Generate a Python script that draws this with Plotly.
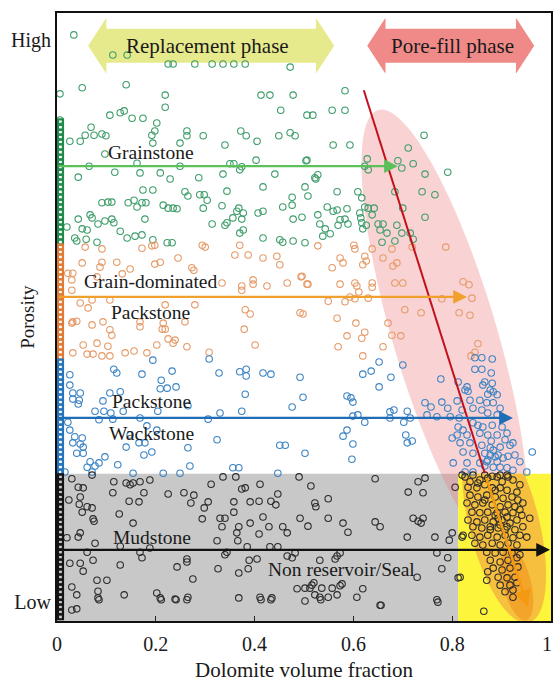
import math
import plotly.graph_objects as go

# ---------------------------------------------------------------------------
# Data: (dolomite volume fraction, relative porosity 0..1)
# ---------------------------------------------------------------------------
grainstone_pts = [
    (0.034, 0.964), (0.113, 0.931), (0.142, 0.931), (0.225, 0.916), (0.235, 0.916),
    (0.279, 0.916), (0.314, 0.916), (0.336, 0.916), (0.358, 0.916), (0.381, 0.916),
    (0.472, 0.911), (0.051, 0.877), (0.140, 0.882), (0.219, 0.865), (0.219, 0.845),
    (0.413, 0.865), (0.431, 0.865), (0.478, 0.865), (0.583, 0.872), (0.006, 0.867),
    (0.453, 0.840), (0.506, 0.832), (0.518, 0.832), (0.557, 0.840), (0.583, 0.840),
    (0.107, 0.832), (0.128, 0.836), (0.136, 0.839), (0.152, 0.827), (0.174, 0.827),
    (0.202, 0.819), (0.006, 0.824), (0.069, 0.812), (0.057, 0.799), (0.075, 0.799),
    (0.091, 0.801), (0.099, 0.798), (0.192, 0.799), (0.198, 0.806), (0.263, 0.806),
    (0.263, 0.798), (0.296, 0.798), (0.383, 0.798), (0.372, 0.806), (0.449, 0.798),
    (0.472, 0.803), (0.482, 0.798), (0.743, 0.799),
    (0.026, 0.789), (0.047, 0.789), (0.097, 0.768), (0.194, 0.786), (0.249, 0.786),
    (0.340, 0.783), (0.405, 0.789), (0.065, 0.748), (0.117, 0.738), (0.162, 0.753),
    (0.168, 0.737), (0.209, 0.737), (0.249, 0.748), (0.229, 0.727), (0.287, 0.729),
    (0.336, 0.735), (0.350, 0.752), (0.358, 0.752), (0.370, 0.742), (0.374, 0.747),
    (0.403, 0.758), (0.441, 0.735), (0.506, 0.758), (0.522, 0.729), (0.043, 0.730),
    (0.174, 0.709), (0.194, 0.709), (0.259, 0.706), (0.265, 0.699), (0.289, 0.701),
    (0.298, 0.701), (0.304, 0.692), (0.344, 0.707), (0.417, 0.714), (0.476, 0.697),
    (0.502, 0.714), (0.508, 0.699), (0.091, 0.688), (0.103, 0.689), (0.111, 0.689),
    (0.144, 0.688), (0.156, 0.692), (0.162, 0.681), (0.172, 0.688), (0.180, 0.688),
    (0.215, 0.684), (0.225, 0.679), (0.235, 0.679), (0.243, 0.678), (0.296, 0.679),
    (0.334, 0.683), (0.364, 0.674), (0.368, 0.679), (0.377, 0.671), (0.407, 0.671),
    (0.417, 0.674), (0.457, 0.681), (0.476, 0.684), (0.043, 0.661), (0.067, 0.668),
    (0.071, 0.663), (0.083, 0.653), (0.097, 0.658), (0.111, 0.661), (0.115, 0.655),
    (0.178, 0.661), (0.314, 0.653), (0.340, 0.651), (0.344, 0.655), (0.356, 0.663),
    (0.374, 0.661), (0.377, 0.643), (0.370, 0.638), (0.478, 0.661), (0.496, 0.664),
    (0.528, 0.668), (0.020, 0.648), (0.051, 0.645), (0.061, 0.643), (0.128, 0.641),
    (0.142, 0.630), (0.158, 0.633), (0.172, 0.635), (0.036, 0.630), (0.040, 0.625),
    (0.059, 0.628), (0.081, 0.623), (0.194, 0.627), (0.223, 0.622), (0.233, 0.622),
    (0.417, 0.630), (0.451, 0.627), (0.457, 0.623), (0.478, 0.625), (0.502, 0.622),
    (0.559, 0.783), (0.593, 0.783), (0.711, 0.778), (0.504, 0.757), (0.628, 0.760),
    (0.623, 0.748), (0.630, 0.742), (0.690, 0.757), (0.698, 0.745), (0.721, 0.752),
    (0.791, 0.738), (0.745, 0.735), (0.528, 0.734), (0.524, 0.727), (0.567, 0.706),
    (0.609, 0.706), (0.617, 0.696), (0.684, 0.706), (0.739, 0.706), (0.765, 0.701),
    (0.547, 0.681), (0.559, 0.674), (0.567, 0.676), (0.587, 0.678), (0.623, 0.681),
    (0.630, 0.679), (0.642, 0.679), (0.613, 0.671), (0.638, 0.668), (0.615, 0.663),
    (0.700, 0.679), (0.745, 0.664), (0.573, 0.660), (0.583, 0.661), (0.569, 0.651),
    (0.589, 0.653), (0.532, 0.653), (0.543, 0.645), (0.553, 0.637), (0.538, 0.633),
    (0.617, 0.655), (0.626, 0.651), (0.619, 0.645), (0.650, 0.653), (0.660, 0.653),
    (0.654, 0.643), (0.668, 0.638), (0.688, 0.651), (0.698, 0.638), (0.715, 0.638),
    (0.658, 0.623), (0.684, 0.625), (0.721, 0.628),
]

grain_packstone_pts = [
    (0.057, 0.615), (0.091, 0.612), (0.172, 0.613), (0.192, 0.617), (0.198, 0.618),
    (0.294, 0.618), (0.300, 0.615), (0.370, 0.618), (0.528, 0.617), (0.051, 0.589),
    (0.091, 0.590), (0.087, 0.582), (0.121, 0.590), (0.148, 0.579), (0.198, 0.587),
    (0.209, 0.590), (0.245, 0.597), (0.273, 0.581), (0.277, 0.577), (0.360, 0.602),
    (0.387, 0.602), (0.417, 0.597), (0.445, 0.600), (0.451, 0.586), (0.494, 0.566),
    (0.022, 0.572), (0.032, 0.572), (0.030, 0.561), (0.132, 0.571), (0.081, 0.566),
    (0.334, 0.556), (0.374, 0.551), (0.397, 0.554), (0.425, 0.551), (0.466, 0.556),
    (0.508, 0.554), (0.030, 0.544), (0.374, 0.544), (0.397, 0.561), (0.047, 0.523),
    (0.071, 0.528), (0.107, 0.528), (0.063, 0.515), (0.219, 0.520), (0.279, 0.520),
    (0.381, 0.512), (0.391, 0.505), (0.492, 0.507), (0.032, 0.492), (0.071, 0.487),
    (0.093, 0.492), (0.215, 0.490), (0.168, 0.484),
    (0.601, 0.618), (0.603, 0.612), (0.638, 0.612), (0.678, 0.612), (0.719, 0.615),
    (0.787, 0.615), (0.573, 0.597), (0.579, 0.589), (0.623, 0.600), (0.626, 0.592),
    (0.660, 0.597), (0.619, 0.586), (0.680, 0.584), (0.688, 0.589), (0.496, 0.567),
    (0.557, 0.581), (0.506, 0.554), (0.573, 0.554), (0.603, 0.556), (0.607, 0.551),
    (0.638, 0.556), (0.638, 0.549), (0.684, 0.556), (0.700, 0.556), (0.611, 0.541),
    (0.593, 0.533), (0.603, 0.530), (0.583, 0.525), (0.549, 0.526), (0.630, 0.531),
    (0.779, 0.530), (0.822, 0.558), (0.834, 0.553), (0.840, 0.531), (0.704, 0.512),
    (0.737, 0.507), (0.814, 0.507), (0.836, 0.503), (0.567, 0.498), (0.605, 0.490),
    (0.670, 0.490), (0.498, 0.505),
    (0.030, 0.490), (0.040, 0.493), (0.107, 0.479), (0.111, 0.470), (0.168, 0.492),
    (0.213, 0.480), (0.219, 0.480), (0.225, 0.464), (0.235, 0.457), (0.239, 0.462),
    (0.259, 0.492), (0.379, 0.480), (0.401, 0.454), (0.053, 0.454), (0.081, 0.457),
    (0.103, 0.452), (0.138, 0.441), (0.156, 0.444), (0.182, 0.441), (0.202, 0.454),
    (0.263, 0.451), (0.308, 0.442), (0.032, 0.441), (0.061, 0.439), (0.073, 0.439),
    (0.091, 0.436), (0.107, 0.436),
    (0.587, 0.469), (0.617, 0.465), (0.623, 0.475), (0.678, 0.470), (0.696, 0.469),
    (0.660, 0.451), (0.569, 0.451), (0.619, 0.436), (0.852, 0.456), (0.846, 0.442),
    (0.838, 0.436),
]

pack_wackstone_pts = [
    (0.194, 0.429), (0.308, 0.431), (0.115, 0.414), (0.121, 0.408), (0.172, 0.406),
    (0.233, 0.411), (0.328, 0.408), (0.370, 0.410), (0.383, 0.414), (0.383, 0.403),
    (0.417, 0.408), (0.433, 0.406), (0.492, 0.401), (0.026, 0.405), (0.026, 0.388),
    (0.211, 0.396), (0.209, 0.382), (0.223, 0.383), (0.241, 0.385), (0.107, 0.375),
    (0.128, 0.377), (0.032, 0.375), (0.047, 0.375), (0.381, 0.373), (0.498, 0.368),
    (0.032, 0.365), (0.045, 0.363), (0.093, 0.362), (0.043, 0.357), (0.077, 0.345),
    (0.095, 0.345), (0.109, 0.342), (0.134, 0.345), (0.204, 0.345), (0.330, 0.342),
    (0.374, 0.345), (0.476, 0.352), (0.265, 0.354), (0.085, 0.331), (0.113, 0.332),
    (0.168, 0.334), (0.306, 0.332), (0.022, 0.327), (0.026, 0.314), (0.182, 0.321),
    (0.202, 0.314), (0.036, 0.303), (0.051, 0.301), (0.032, 0.293), (0.047, 0.291),
    (0.053, 0.286), (0.053, 0.276), (0.040, 0.276), (0.148, 0.306), (0.166, 0.293),
    (0.178, 0.293), (0.140, 0.286), (0.265, 0.285), (0.324, 0.298), (0.451, 0.289),
    (0.462, 0.289), (0.502, 0.276), (0.192, 0.278), (0.176, 0.273), (0.097, 0.270),
    (0.067, 0.262), (0.085, 0.260), (0.077, 0.255), (0.061, 0.253), (0.071, 0.245),
    (0.123, 0.257), (0.269, 0.255), (0.356, 0.252), (0.368, 0.252), (0.447, 0.243),
    (0.154, 0.243), (0.215, 0.243), (0.249, 0.243), (0.016, 0.245),
    (0.700, 0.421), (0.652, 0.426), (0.636, 0.411), (0.619, 0.406), (0.676, 0.401),
    (0.652, 0.385), (0.587, 0.370), (0.595, 0.367), (0.599, 0.360), (0.599, 0.337),
    (0.609, 0.339), (0.674, 0.344), (0.682, 0.347), (0.674, 0.334), (0.709, 0.345),
    (0.623, 0.327), (0.702, 0.327), (0.715, 0.334), (0.587, 0.314), (0.579, 0.304),
    (0.599, 0.291), (0.706, 0.306), (0.709, 0.293), (0.719, 0.296), (0.597, 0.266),
    (0.745, 0.359), (0.757, 0.352), (0.779, 0.360), (0.791, 0.350), (0.810, 0.362),
    (0.777, 0.398), (0.812, 0.393), (0.749, 0.339), (0.769, 0.336), (0.796, 0.336),
    (0.814, 0.334), (0.830, 0.385), (0.826, 0.380), (0.832, 0.378), (0.846, 0.433),
    (0.860, 0.433), (0.881, 0.431), (0.846, 0.414), (0.860, 0.414), (0.879, 0.408),
    (0.866, 0.393), (0.862, 0.388), (0.881, 0.391), (0.877, 0.380), (0.883, 0.377),
    (0.891, 0.372), (0.872, 0.373), (0.856, 0.363), (0.870, 0.359), (0.883, 0.359),
    (0.897, 0.350), (0.842, 0.350), (0.860, 0.347), (0.872, 0.342), (0.891, 0.339),
    (0.903, 0.334), (0.842, 0.326), (0.862, 0.319), (0.881, 0.322), (0.901, 0.319),
    (0.812, 0.319), (0.822, 0.314), (0.810, 0.306), (0.830, 0.306), (0.856, 0.309),
    (0.872, 0.306), (0.891, 0.306), (0.911, 0.309), (0.800, 0.301), (0.816, 0.293),
    (0.836, 0.293), (0.860, 0.289), (0.877, 0.285), (0.897, 0.286), (0.917, 0.289),
    (0.923, 0.293), (0.822, 0.278), (0.842, 0.276), (0.866, 0.276), (0.877, 0.273),
    (0.887, 0.270), (0.903, 0.268), (0.913, 0.271), (0.962, 0.278), (0.802, 0.260),
    (0.830, 0.260), (0.856, 0.260), (0.870, 0.262), (0.883, 0.253), (0.897, 0.253),
    (0.911, 0.252), (0.923, 0.248), (0.951, 0.245), (0.826, 0.245), (0.842, 0.245),
    (0.872, 0.265), (0.883, 0.281), (0.891, 0.262), (0.866, 0.255), (0.893, 0.273),
    (0.879, 0.296), (0.852, 0.322), (0.836, 0.363), (0.820, 0.347), (0.907, 0.298),
    (0.927, 0.273), (0.937, 0.262),
]

mudstone_pts = [
    (0.030, 0.234), (0.043, 0.220), (0.053, 0.219), (0.071, 0.240), (0.115, 0.229),
    (0.140, 0.227), (0.148, 0.224), (0.154, 0.227), (0.168, 0.229), (0.188, 0.232),
    (0.113, 0.211), (0.176, 0.211), (0.225, 0.209), (0.257, 0.211), (0.277, 0.207),
    (0.312, 0.225), (0.336, 0.237), (0.362, 0.237), (0.374, 0.217), (0.381, 0.219),
    (0.411, 0.225), (0.447, 0.209), (0.490, 0.237), (0.514, 0.222), (0.024, 0.199),
    (0.047, 0.204), (0.045, 0.192), (0.061, 0.188), (0.071, 0.186), (0.051, 0.179),
    (0.126, 0.176), (0.146, 0.197), (0.166, 0.196), (0.271, 0.194), (0.298, 0.186),
    (0.306, 0.196), (0.358, 0.196), (0.358, 0.179), (0.391, 0.196), (0.409, 0.197),
    (0.433, 0.197), (0.443, 0.191), (0.522, 0.194), (0.073, 0.168), (0.075, 0.164),
    (0.154, 0.161), (0.294, 0.168), (0.330, 0.169), (0.340, 0.169), (0.391, 0.161),
    (0.417, 0.171), (0.492, 0.169), (0.508, 0.156), (0.334, 0.155), (0.368, 0.155),
    (0.429, 0.155), (0.457, 0.155), (0.466, 0.145), (0.409, 0.143), (0.047, 0.145),
    (0.043, 0.138), (0.020, 0.137), (0.077, 0.128), (0.128, 0.123), (0.324, 0.132),
    (0.366, 0.132), (0.431, 0.122), (0.447, 0.122), (0.385, 0.122), (0.364, 0.145),
    (0.061, 0.113), (0.168, 0.113), (0.188, 0.120), (0.172, 0.104), (0.340, 0.109),
    (0.344, 0.113), (0.389, 0.100), (0.405, 0.102), (0.466, 0.107), (0.476, 0.104),
    (0.482, 0.112), (0.263, 0.102), (0.263, 0.097), (0.026, 0.095), (0.047, 0.095),
    (0.073, 0.100), (0.128, 0.092), (0.053, 0.082), (0.243, 0.089), (0.326, 0.086),
    (0.368, 0.079), (0.387, 0.086), (0.081, 0.067), (0.101, 0.067), (0.275, 0.069),
    (0.030, 0.056), (0.083, 0.049), (0.040, 0.043), (0.083, 0.038), (0.136, 0.043),
    (0.202, 0.046), (0.209, 0.038), (0.239, 0.036), (0.265, 0.039), (0.368, 0.038),
    (0.411, 0.039), (0.435, 0.038), (0.486, 0.053), (0.502, 0.054), (0.512, 0.054),
    (0.502, 0.033), (0.522, 0.043), (0.030, 0.018), (0.040, 0.020),
    (0.085, 0.035), (0.211, 0.035), (0.241, 0.035), (0.263, 0.035), (0.413, 0.035),
    (0.433, 0.035), (0.534, 0.035), (0.656, 0.026), (0.771, 0.031), (0.864, 0.016),
    (0.644, 0.234), (0.731, 0.229), (0.745, 0.235), (0.711, 0.212), (0.741, 0.211),
    (0.806, 0.220), (0.549, 0.201), (0.524, 0.188), (0.549, 0.169), (0.579, 0.161),
    (0.589, 0.146), (0.644, 0.163), (0.654, 0.155), (0.721, 0.169), (0.731, 0.164),
    (0.741, 0.169), (0.737, 0.161), (0.709, 0.138), (0.765, 0.138), (0.800, 0.145),
    (0.794, 0.133), (0.820, 0.138), (0.573, 0.112), (0.769, 0.112), (0.791, 0.104),
    (0.532, 0.100), (0.563, 0.102), (0.567, 0.107), (0.779, 0.086), (0.729, 0.072),
    (0.812, 0.071), (0.516, 0.059), (0.520, 0.063), (0.536, 0.054), (0.557, 0.054),
    (0.573, 0.058), (0.577, 0.061), (0.619, 0.053), (0.532, 0.039), (0.549, 0.039),
    (0.567, 0.043), (0.607, 0.039), (0.654, 0.026), (0.769, 0.035),
    # dolomitised cluster
    (0.826, 0.237), (0.842, 0.240), (0.856, 0.232), (0.872, 0.235), (0.891, 0.237),
    (0.901, 0.229), (0.913, 0.237), (0.923, 0.232), (0.937, 0.224), (0.832, 0.220),
    (0.850, 0.219), (0.866, 0.224), (0.881, 0.219), (0.897, 0.219), (0.911, 0.215),
    (0.931, 0.212), (0.836, 0.207), (0.852, 0.204), (0.870, 0.207), (0.887, 0.204),
    (0.903, 0.202), (0.921, 0.204), (0.933, 0.199), (0.830, 0.194), (0.846, 0.191),
    (0.862, 0.194), (0.881, 0.191), (0.897, 0.188), (0.913, 0.191), (0.927, 0.188),
    (0.943, 0.194), (0.840, 0.179), (0.856, 0.178), (0.872, 0.179), (0.891, 0.178),
    (0.907, 0.179), (0.923, 0.178), (0.937, 0.183), (0.941, 0.174), (0.957, 0.169),
    (0.832, 0.166), (0.850, 0.163), (0.866, 0.166), (0.883, 0.163), (0.901, 0.166),
    (0.917, 0.161), (0.931, 0.166), (0.842, 0.155), (0.860, 0.153), (0.877, 0.155),
    (0.893, 0.153), (0.911, 0.155), (0.927, 0.150), (0.943, 0.155), (0.822, 0.141),
    (0.840, 0.141), (0.856, 0.138), (0.872, 0.141), (0.891, 0.138), (0.907, 0.141),
    (0.923, 0.137), (0.937, 0.141), (0.951, 0.138), (0.846, 0.128), (0.862, 0.125),
    (0.881, 0.128), (0.897, 0.125), (0.913, 0.128), (0.931, 0.125), (0.870, 0.113),
    (0.887, 0.112), (0.903, 0.113), (0.921, 0.112), (0.937, 0.109), (0.877, 0.100),
    (0.897, 0.097), (0.913, 0.100), (0.931, 0.104), (0.883, 0.087), (0.901, 0.084),
    (0.917, 0.087), (0.933, 0.089), (0.893, 0.072), (0.911, 0.071), (0.927, 0.072),
    (0.897, 0.059), (0.917, 0.059), (0.931, 0.063), (0.907, 0.048), (0.923, 0.051),
    (0.816, 0.072), (0.872, 0.081), (0.870, 0.067), (0.923, 0.039),
    (0.887, 0.174), (0.897, 0.158), (0.907, 0.150), (0.877, 0.150), (0.893, 0.169),
    (0.911, 0.171), (0.866, 0.199), (0.887, 0.215), (0.852, 0.227), (0.836, 0.229),
    (0.866, 0.240), (0.897, 0.240), (0.820, 0.240), (0.881, 0.238), (0.911, 0.240),
]

# Samples with no dolomite, stacked along the porosity axis
grainstone_edge_y = [0.821, 0.812, 0.804, 0.796, 0.788, 0.780, 0.771, 0.763, 0.755,
                     0.747, 0.738, 0.730, 0.722, 0.714, 0.706, 0.697, 0.689, 0.681,
                     0.673, 0.664, 0.656, 0.648, 0.640, 0.632, 0.623]
grain_packstone_edge_y = [0.615, 0.607, 0.599, 0.590, 0.582, 0.574, 0.566, 0.558,
                          0.549, 0.541, 0.533, 0.525, 0.516, 0.508, 0.500, 0.492,
                          0.484, 0.475, 0.467, 0.459, 0.451, 0.442, 0.434]
pack_wackstone_edge_y = [0.426, 0.418, 0.410, 0.401, 0.393, 0.385, 0.377, 0.368,
                         0.360, 0.352, 0.344, 0.336, 0.327, 0.319, 0.311, 0.303,
                         0.294, 0.286, 0.278, 0.270, 0.262, 0.253, 0.245]
mudstone_edge_y = [0.237, 0.229, 0.220, 0.212, 0.204, 0.196, 0.188, 0.179, 0.171,
                   0.163, 0.155, 0.146, 0.138, 0.130, 0.122, 0.113, 0.105, 0.097,
                   0.089, 0.081, 0.072, 0.064, 0.056, 0.048, 0.039, 0.031, 0.023,
                   0.015, 0.007]

x_ticks = [0, 0.2, 0.4, 0.6, 0.8, 1.0]
x_tick_text = ["0", "0.2", "0.4", "0.6", "0.8", "1"]
y_ticks = [0.031, 0.956]
y_tick_text = ["Low", "High"]

# facies arrows: porosity level and extent of dolomitisation
facies_levels = [0.748, 0.533, 0.334, 0.117]
facies_reach = [0.690, 0.830, 0.923, 0.998]

# ---------------------------------------------------------------------------
FONT = "Liberation Serif, DejaVu Serif, serif"
W, H = 554, 686
M_L, M_R, M_T, M_B = 57, 3, 13, 65
PW, PH = W - M_L - M_R, H - M_T - M_B

GREEN, ORANGE, BLUE, BLACK = "#3e9d6a", "#e59a68", "#3b83c4", "#2b2b2b"
EDGE = ["#1f8a4c", "#e07a34", "#2574bd", "#151515"]
ARROW = ["#5cc05a", "#f0a02c", "#1f6db6", "#111111"]


def ellipse_path(cx, cy, a_px, b_px, tilt_deg, y_max=None, n=90):
    """Tilted ellipse given in pixel lengths, returned as a data-space SVG path."""
    t = math.radians(tilt_deg)
    ux, uy = math.sin(t), -math.cos(t)          # major axis direction (data y up)
    vx, vy = math.cos(t), math.sin(t)
    pts = []
    for i in range(n):
        s = 2 * math.pi * i / n
        px = a_px * math.cos(s) * ux + b_px * math.sin(s) * vx
        py = a_px * math.cos(s) * uy + b_px * math.sin(s) * vy
        pts.append((cx + px / PW, cy + py / PH))
    if y_max is not None:                       # clip against a horizontal line
        out = []
        for i in range(n):
            p, q = pts[i], pts[(i + 1) % n]
            pin, qin = p[1] <= y_max, q[1] <= y_max
            if pin:
                out.append(p)
            if pin != qin:
                f = (y_max - p[1]) / (q[1] - p[1])
                out.append((p[0] + f * (q[0] - p[0]), y_max))
        pts = out
    return "M " + " L ".join(f"{x:.4f},{y:.4f}" for x, y in pts) + " Z"


def double_arrow(x0, x1, head, yc, body_h, head_h):
    yt, yb = yc + body_h / 2, yc - body_h / 2
    ht, hb = yc + head_h / 2, yc - head_h / 2
    p = [(x0, yc), (x0 + head, ht), (x0 + head, yt), (x1 - head, yt), (x1 - head, ht),
         (x1, yc), (x1 - head, hb), (x1 - head, yb), (x0 + head, yb), (x0 + head, hb)]
    return "M " + " L ".join(f"{x:.4f},{y:.4f}" for x, y in p) + " Z"


fig = go.Figure()


def add_series(pts, edge_y, color, edge_color):
    fig.add_trace(go.Scatter(
        x=[p[0] for p in pts], y=[p[1] for p in pts], mode="markers",
        marker=dict(symbol="circle-open", size=6.5, color=color, line=dict(width=1.1)),
        hoverinfo="skip", showlegend=False))
    fig.add_trace(go.Scatter(
        x=[0.007] * len(edge_y), y=edge_y, mode="markers",
        marker=dict(symbol="square-open", size=5, color=edge_color, line=dict(width=2.2)),
        hoverinfo="skip", showlegend=False))


add_series(grainstone_pts, grainstone_edge_y, GREEN, EDGE[0])
add_series(grain_packstone_pts, grain_packstone_edge_y, ORANGE, EDGE[1])
add_series(pack_wackstone_pts, pack_wackstone_edge_y, BLUE, EDGE[2])
add_series(mudstone_pts, mudstone_edge_y, BLACK, EDGE[3])

seal_top, seal_split = 0.242, 0.812
shapes = [
    # non-reservoir field and dolomitised seal field
    dict(type="rect", x0=0, x1=seal_split, y0=0, y1=seal_top, fillcolor="#c8c8c8",
         line_width=0, layer="below"),
    dict(type="path", path=ellipse_path(0.785, 0.470, 235, 52, 16.5),
         fillcolor="rgba(236,120,120,0.33)", line_width=0, layer="below"),
    dict(type="rect", x0=seal_split, x1=1, y0=0, y1=seal_top, fillcolor="#fdf43c",
         line_width=0, layer="below"),
    dict(type="path", path=ellipse_path(0.905, 0.160, 102, 35, 14, y_max=seal_top),
         fillcolor="#f6c03e", line_width=0, layer="below"),
    dict(type="path", path=ellipse_path(0.931, 0.062, 38, 14, 14),
         fillcolor="rgba(240,140,25,0.55)", line_width=0, layer="below"),
    # phase banners
    dict(type="path", path=double_arrow(0.063, 0.561, 0.037, 0.946, 0.056, 0.092),
         fillcolor="#e6ea8c", line_width=0, layer="below"),
    dict(type="path", path=double_arrow(0.628, 0.966, 0.037, 0.946, 0.056, 0.092),
         fillcolor="#ef8a88", line_width=0, layer="below"),
    # dolomitisation trend
    dict(type="line", x0=0.621, y0=0.873, x1=0.866, y1=0.243,
         line=dict(color="#c2101c", width=2), layer="above"),
]

annotations = []
for lvl, reach, col in zip(facies_levels, facies_reach, ARROW):
    annotations.append(dict(
        x=reach, y=lvl, ax=0, ay=lvl, xref="x", yref="y", axref="x", ayref="y",
        text="", showarrow=True, arrowhead=2, arrowsize=1.25, arrowwidth=2.2,
        arrowcolor=col, standoff=0))
annotations.append(dict(
    x=0.953, y=0.023, ax=0.868, ay=0.238, xref="x", yref="y", axref="x", ayref="y",
    text="", showarrow=True, arrowhead=2, arrowsize=1.3, arrowwidth=2.6,
    arrowcolor="#f39a12", standoff=0))

labels = [
    ("Replacement phase", 0.304, 0.946, 21),
    ("Pore-fill phase", 0.800, 0.946, 21),
    ("Grainstone", 0.190, 0.770, 19.5),
    ("Grain-dominated", 0.190, 0.559, 19.5),
    ("Packstone", 0.190, 0.507, 19.5),
    ("Packstone", 0.192, 0.361, 19.5),
    ("Wackstone", 0.192, 0.309, 19.5),
    ("Mudstone", 0.192, 0.137, 19.5),
    ("Non reservoir/Seal", 0.575, 0.084, 19.5),
]
for txt, x, y, fs in labels:
    annotations.append(dict(x=x, y=y, xref="x", yref="y", text=txt, showarrow=False,
                            font=dict(family=FONT, size=fs, color="#1a1a1a")))

# the last x tick label sits at the right page edge, so it is right-aligned there
annotations.append(dict(x=1.0, y=-0.0385, xref="paper", yref="paper",
                        text=x_tick_text[-1], showarrow=False, xanchor="right",
                        yanchor="middle", xshift=3,
                        font=dict(family=FONT, size=20, color="#1a1a1a")))
annotations.append(dict(x=0.5, y=-0.08, xref="paper", yref="paper",
                        text="Dolomite volume fraction", showarrow=False,
                        yanchor="middle", font=dict(family=FONT, size=21, color="#1a1a1a")))
annotations.append(dict(x=-0.061, y=0.50, xref="paper", yref="paper", text="Porosity",
                        textangle=-90, showarrow=False, xanchor="center",
                        font=dict(family=FONT, size=19, color="#1a1a1a")))

fig.update_layout(
    width=W, height=H, margin=dict(l=M_L, r=M_R, t=M_T, b=M_B, autoexpand=False),
    paper_bgcolor="white", plot_bgcolor="white",
    shapes=shapes, annotations=annotations, showlegend=False,
    font=dict(family=FONT, size=20, color="#1a1a1a"),
)
fig.update_xaxes(range=[0, 1], tickvals=x_ticks, ticktext=x_tick_text[:-1] + [""],
                 ticks="inside", ticklen=5, tickwidth=1.2, tickcolor="#222",
                 showline=True, linecolor="#111", linewidth=2, mirror=True,
                 showgrid=False, zeroline=False, automargin=False,
                 ticklabeloverflow="allow", ticklabelstandoff=4,
                 tickfont=dict(family=FONT, size=20))
fig.update_yaxes(range=[0, 1], tickvals=y_ticks, ticktext=y_tick_text, ticks="",
                 showline=True, linecolor="#111", linewidth=2, mirror=True,
                 showgrid=False, zeroline=False, automargin=False,
                 ticklabeloverflow="allow", tickfont=dict(family=FONT, size=20))

fig.write_html("out.html")
